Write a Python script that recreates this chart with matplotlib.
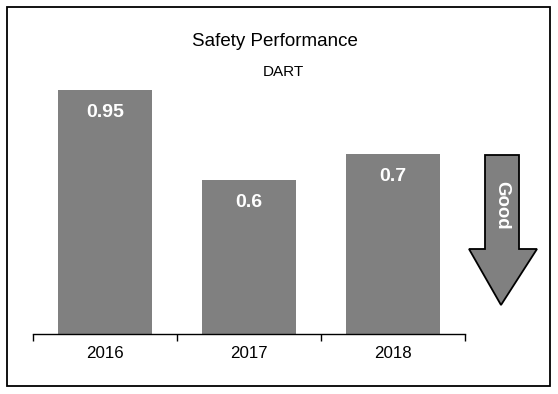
import matplotlib
matplotlib.use("Agg")
import matplotlib.pyplot as plt
from matplotlib.patches import Polygon, Rectangle
from matplotlib.transforms import offset_copy

plt.rcParams['font.family'] = ['Liberation Sans', 'DejaVu Sans']

years = ['2016', '2017', '2018']
values = [0.95, 0.6, 0.7]
labels = ['0.95', '0.6', '0.7']

W, H = 558, 394
fig = plt.figure(figsize=(W / 100, H / 100), dpi=100)

def fx(px):
    return px / W

def fy(py):
    return 1 - py / H

# figure border
fig.patches.append(Rectangle((fx(7), fy(386)), fx(550) - fx(7), fy(7) - fy(386),
                             transform=fig.transFigure, fill=False,
                             edgecolor='black', linewidth=1.3, zorder=0))

ax = fig.add_axes([fx(33), fy(334), fx(465) - fx(33), fy(77) - fy(334)])
x = range(len(years))
ax.bar(x, values, width=0.65, color='#808080', zorder=2)
ax.set_xlim(-0.5, 2.5)
ax.set_ylim(0, 1.0)
for s in ['top', 'right', 'left']:
    ax.spines[s].set_visible(False)
ax.spines['bottom'].set_linewidth(1.0)
ax.set_yticks([])
ax.set_xticks([-0.5, 0.5, 1.5, 2.5], minor=False)
ax.set_xticklabels([])
ax.tick_params(axis='x', which='major', length=5, width=1, direction='out')
ax.set_xticks(list(x), minor=True)
ax.set_xticklabels(years, minor=True, fontsize=12.2)
ax.tick_params(axis='x', which='minor', length=0, pad=9)

for xi, v, lab in zip(x, values, labels):
    ax.text(xi, v, lab, transform=offset_copy(ax.transData, fig=fig, y=-16, units='points'),
            ha='center', va='center', color='white', fontsize=14, fontweight='bold')

fig.text(fx(275), fy(42), 'Safety Performance', ha='center', va='center', fontsize=13.5)
fig.text(fx(283), fy(72), 'DART', ha='center', va='center', fontsize=11)

# "Good" arrow
pts = [(485, 155), (519, 155), (519, 249), (537, 249), (501, 305),
       (469, 249), (485, 249)]
fig.patches.append(Polygon([(fx(a), fy(b)) for a, b in pts], closed=True,
                           transform=fig.transFigure, facecolor='#808080',
                           edgecolor='black', linewidth=1.3))
fig.text(fx(502), fy(205), 'Good', rotation=-90, ha='center', va='center',
         color='white', fontsize=13.4, fontweight='bold')

fig.savefig('out.png', dpi=100)
